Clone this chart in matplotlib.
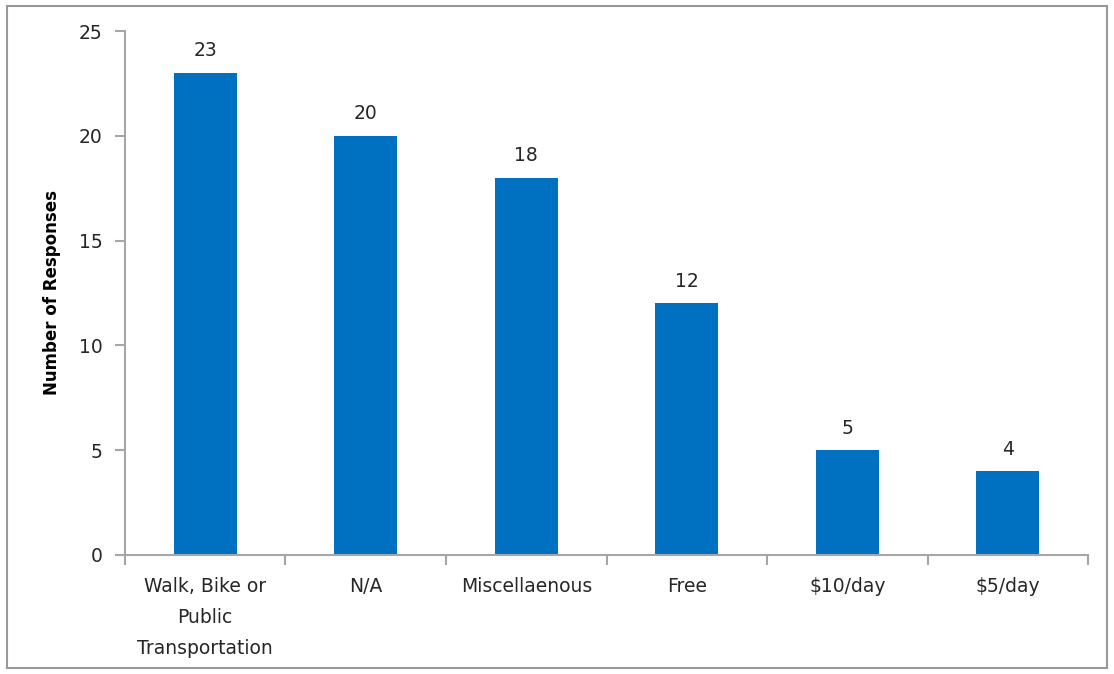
import matplotlib.pyplot as plt
from matplotlib.patches import Rectangle

plt.rcParams['font.family'] = ['DejaVu Sans']

# survey answers
categories = ['Walk, Bike or\nPublic\nTransportation', 'N/A', 'Miscellaenous',
              'Free', '$10/day', '$5/day']
responses = [23, 20, 18, 12, 5, 4]

BLUE = '#0070C0'
GRAY = '#a6a6a6'
TXT = '#262626'
FS = 13.5

fig = plt.figure(figsize=(11.14, 6.74), dpi=100)
ax = fig.add_axes([0.1122, 0.1766, 0.8645, 0.7774])

x = list(range(len(categories)))
ax.bar(x, responses, width=0.39, color=BLUE, zorder=2)

for xi, v in zip(x, responses):
	ax.annotate(str(v), (xi, v), xytext=(0, 9), textcoords='offset points',
		ha='center', va='bottom', fontsize=FS, color=TXT)

ax.set_xlim(-0.5, len(categories) - 0.5)
ax.set_ylim(0, 25)
ax.set_yticks([0, 5, 10, 15, 20, 25])

# labels at centres, tick marks at category boundaries
ax.set_xticks(x)
ax.set_xticklabels(categories, fontsize=FS, color=TXT, linespacing=1.78, va='top')
ax.set_xticks([i - 0.5 for i in range(len(categories) + 1)], minor=True)
ax.tick_params(axis='x', which='major', length=0, pad=16)
ax.tick_params(axis='x', which='minor', length=7, color=GRAY, width=1.5)
ax.tick_params(axis='y', length=7, color=GRAY, width=1.5, labelsize=FS,
	labelcolor=TXT, pad=9)

ax.set_ylabel('Number of Responses', fontsize=12, fontweight='bold', color='black')
ax.yaxis.set_label_coords(-0.066, 0.5)

for s in ['top', 'right']:
	ax.spines[s].set_visible(False)
for s in ['left', 'bottom']:
	ax.spines[s].set_color(GRAY)
	ax.spines[s].set_linewidth(1.5)

# outer frame
fig.patches.append(Rectangle((0.006, 0.009), 0.988, 0.982, transform=fig.transFigure,
	fill=False, edgecolor='#999999', linewidth=1.5))

fig.savefig('out.png', dpi=100)
